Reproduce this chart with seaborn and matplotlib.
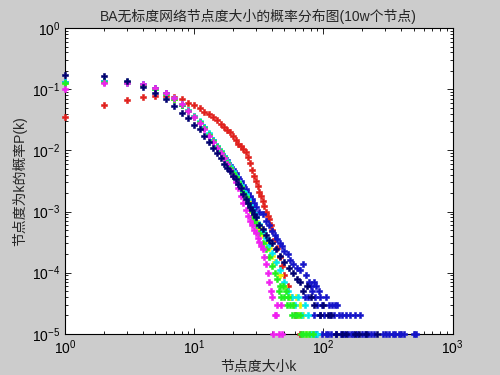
"""BA scale-free network degree distribution (log-log scatter)."""
import matplotlib
matplotlib.use("Agg")
import matplotlib.pyplot as plt
import seaborn as sns
import pandas as pd

N_NODES = 100000

# main body of each series: degree k and probability P(k)
RED_K = list(range(1, 41)) + [42, 44, 46, 48, 50, 53, 56, 60, 66]
RED_P = [0.035, 0.055, 0.066, 0.074, 0.077, 0.077, 0.074, 0.069, 0.0605, 0.055,
         0.049, 0.043, 0.039, 0.035, 0.031, 0.0274, 0.024, 0.0213, 0.0197, 0.0172,
         0.0146, 0.0128, 0.0117, 0.0106, 0.0095, 0.0079, 0.0062, 0.0047, 0.0038, 0.0032,
         0.0026, 0.0021, 0.00178, 0.0015, 0.00123, 0.001, 0.00083, 0.00074, 0.0006, 0.0005,
         0.00035, 0.00025, 0.00018, 0.00013, 9e-5, 6e-5, 4e-5, 2e-5, 1e-5]

NAVY_K = list(range(1, 31)) + [32, 34, 36, 38, 40, 43, 46, 50, 54, 58, 62, 66, 70, 75, 80]
NAVY_P = [0.17, 0.165, 0.137, 0.107, 0.088, 0.069, 0.053, 0.041, 0.034, 0.026,
          0.022, 0.0172, 0.0138, 0.011, 0.0091, 0.0076, 0.0059, 0.0051, 0.0046, 0.0038,
          0.0034, 0.0028, 0.0024, 0.0019, 0.0016, 0.0014, 0.0012, 0.00105, 0.0009, 0.0008,
          0.0006, 0.00052, 0.00042, 0.00034, 0.0003, 0.00024, 0.00019, 0.00015, 0.00012, 0.0001,
          8e-5, 7e-5, 5e-5, 6e-5, 4e-5]

BLUE_K = list(range(1, 31)) + [32, 34, 36, 38, 40, 42, 44, 46, 48, 50, 53, 55, 58, 62, 66, 70, 74]
BLUE_P = [0.132, 0.135, 0.13, 0.12, 0.104, 0.086, 0.07, 0.056, 0.045, 0.036,
          0.0295, 0.0238, 0.0186, 0.0146, 0.012, 0.0099, 0.0082, 0.0069, 0.0058, 0.0049,
          0.0042, 0.0036, 0.0031, 0.0027, 0.0023, 0.002, 0.0018, 0.0016, 0.0014, 0.0012,
          0.001, 0.0009, 0.0007, 0.0006, 0.00048, 0.00042, 0.00036, 0.0003, 0.00027, 0.00023,
          0.0002, 0.00016, 0.00014, 0.00012, 0.00011, 0.00014, 9e-5]

CYAN_K = list(range(1, 31)) + [32, 34, 36, 38, 40, 43, 46, 50, 53]
CYAN_P = [0.13, 0.134, 0.128, 0.12, 0.102, 0.085, 0.071, 0.058, 0.046, 0.037,
          0.030, 0.024, 0.019, 0.015, 0.012, 0.0098, 0.008, 0.0066, 0.0055, 0.0046,
          0.0038, 0.0032, 0.0027, 0.0022, 0.0019, 0.0016, 0.0013, 0.0011, 0.00095, 0.0008,
          0.00062, 0.00048, 0.00037, 0.00028, 0.00021, 0.00015, 0.00011, 7e-5, 5e-5]

GREEN_K = list(range(1, 31)) + [32, 34, 36, 38, 40, 42, 44]
GREEN_P = [0.125, 0.132, 0.13, 0.118, 0.1, 0.083, 0.069, 0.056, 0.044, 0.0355,
           0.029, 0.023, 0.018, 0.014, 0.0115, 0.0094, 0.0077, 0.0063, 0.0052, 0.0043,
           0.0036, 0.003, 0.0025, 0.002, 0.0017, 0.0014, 0.0011, 0.00085, 0.0007, 0.0006,
           0.00045, 0.0003, 0.00024, 0.00018, 0.00013, 0.0001, 8e-5]

YELLOW_K = list(range(1, 31)) + [32, 34, 36, 38, 40, 42, 46, 50]
YELLOW_P = [0.128, 0.13, 0.127, 0.119, 0.101, 0.084, 0.07, 0.057, 0.045, 0.036,
            0.0292, 0.0235, 0.0182, 0.0143, 0.0117, 0.0096, 0.0078, 0.0064, 0.0054, 0.0045,
            0.0037, 0.0031, 0.0026, 0.0021, 0.0018, 0.0015, 0.0012, 0.001, 0.0008, 0.0007,
            0.00053, 0.00042, 0.00032, 0.00025, 0.00019, 0.00015, 9e-5, 6e-5]

MAGENTA_K = list(range(1, 39))
MAGENTA_P = [0.1, 0.128, 0.126, 0.121, 0.103, 0.086, 0.071, 0.057, 0.0435, 0.035,
             0.0285, 0.0225, 0.0175, 0.0135, 0.011, 0.009, 0.0075, 0.006, 0.0048, 0.0038,
             0.003, 0.0024, 0.0018, 0.0014, 0.00105, 0.00085, 0.0007, 0.0006, 0.0005, 0.00045,
             0.00037, 0.00032, 0.00027, 0.00024, 0.00018, 0.00014, 0.0001, 7e-5]

# sparse tails: number of nodes -> degrees having that many nodes
NAVY_TAIL = {3: [85, 100], 2: [95, 108, 115],
             1: [125, 140, 150, 175, 190, 215, 260]}
BLUE_TAIL = {7: [78, 84], 6: [80, 88], 5: [82, 92], 4: [72, 76, 86, 95, 105],
             3: [90, 98, 110, 117, 123, 128],
             2: [85, 94, 102, 112, 120, 132, 140, 150, 160, 175, 192],
             1: [87, 97, 104, 108, 115, 126, 137, 145, 155, 165, 170, 182, 200, 210,
                 220, 232, 245, 290, 305, 320, 345, 360, 385, 400, 420, 500, 520]}
CYAN_TAIL = {4: [57, 64], 3: [60, 72], 2: [68, 76], 1: [80, 85, 90]}
GREEN_TAIL = {6: [46, 49], 5: [45, 51], 4: [47, 50, 53], 3: [52, 55, 58],
              2: [57, 60, 63, 66], 1: [67, 70, 74, 78, 83]}
YELLOW_TAIL = {4: [55, 61], 3: [58, 66], 2: [64, 70], 1: [74, 79, 82]}
MAGENTA_TAIL = {5: [39], 4: [40], 3: [44, 47], 2: [42, 43], 1: [41, 45, 48]}

COLORS = {
    'red': '#e0201c', 'blue': '#1414c8', 'yellow': '#f0f000', 'cyan': '#00e8f0',
    'green': '#20f020', 'magenta': '#f020f0', 'navy': '#000070',
}
DRAW_ORDER = ['red', 'blue', 'yellow', 'cyan', 'green', 'magenta', 'navy']


def build_frame():
    """Collect all series into one long dataframe."""
    main = {
        'red': (RED_K, RED_P), 'navy': (NAVY_K, NAVY_P), 'blue': (BLUE_K, BLUE_P),
        'cyan': (CYAN_K, CYAN_P), 'green': (GREEN_K, GREEN_P),
        'yellow': (YELLOW_K, YELLOW_P), 'magenta': (MAGENTA_K, MAGENTA_P),
    }
    tails = {
        'navy': NAVY_TAIL, 'blue': BLUE_TAIL, 'cyan': CYAN_TAIL,
        'green': GREEN_TAIL, 'yellow': YELLOW_TAIL, 'magenta': MAGENTA_TAIL,
    }
    frames = []
    for name, (ks, ps) in main.items():
        frames.append(pd.DataFrame({'k': ks, 'P': ps, 'series': name}))
    for name, tail in tails.items():
        for count, ks in tail.items():
            frames.append(pd.DataFrame({'k': ks, 'P': count / N_NODES, 'series': name}))
    return pd.concat(frames, ignore_index=True)


df = build_frame()

sns.set_style('ticks')
plt.rcParams['font.family'] = ['Liberation Sans', 'Noto Sans CJK SC']
plt.rcParams['mathtext.fontset'] = 'custom'
plt.rcParams['mathtext.rm'] = 'Liberation Sans'
plt.rcParams['axes.unicode_minus'] = False

fig = plt.figure(figsize=(5, 3.75), dpi=100, facecolor='#cccccc')
ax = fig.add_axes([0.13, 0.11, 0.775, 0.815])
ax.set_facecolor('white')

for name in DRAW_ORDER:
    sns.scatterplot(data=df[df['series'] == name], x='k', y='P', ax=ax,
                    color=COLORS[name], marker='P', s=22, linewidth=0.4,
                    edgecolor=COLORS[name], clip_on=False, legend=False, zorder=3)

ax.set_xscale('log')
ax.set_yscale('log')
ax.set_xlim(1, 1000)
ax.set_ylim(1e-5, 1)

ax.tick_params(which='both', direction='in', top=True, right=True,
               colors='black', labelsize=10, width=0.6)
ax.tick_params(which='major', length=4.5)
ax.tick_params(which='minor', length=2.5)
for spine in ax.spines.values():
    spine.set_color('black')
    spine.set_linewidth(0.8)

ax.set_title('BA无标度网络节点度大小的概率分布图(10w个节点)', fontsize=10, pad=5)
ax.set_xlabel('节点度大小k', fontsize=10, labelpad=2)
ax.set_ylabel('节点度为k的概率P(k)', fontsize=10, labelpad=3)

fig.savefig('out.png', dpi=100, facecolor=fig.get_facecolor())
